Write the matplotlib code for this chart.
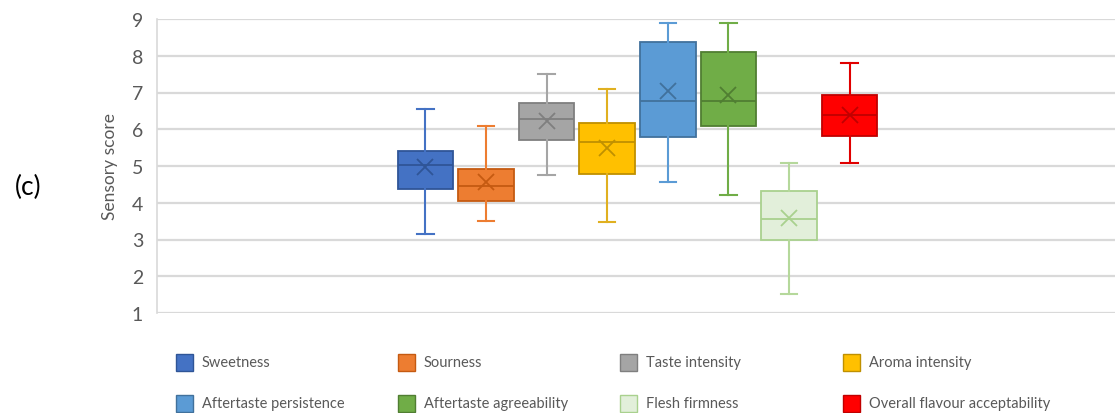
import matplotlib
matplotlib.use("Agg")
import matplotlib.pyplot as plt
from matplotlib.patches import Rectangle

plt.rcParams['font.family'] = ['Lato', 'DejaVu Sans']

# Sensory attributes and box statistics (score 1-9)
labels = ["Sweetness", "Sourness", "Taste intensity", "Aroma intensity",
          "Aftertaste persistence", "Aftertaste agreeability", "Flesh firmness",
          "Overall flavour acceptability"]
whis_lo = [3.14, 3.50, 4.75, 3.48, 4.57, 4.21, 1.53, 5.07]
q1 = [4.37, 4.06, 5.71, 4.77, 5.78, 6.08, 3.00, 5.82]
median = [5.03, 4.46, 6.29, 5.66, 6.76, 6.76, 3.57, 6.40]
mean = [4.96, 4.56, 6.22, 5.48, 7.05, 6.93, 3.59, 6.39]
q3 = [5.42, 4.92, 6.72, 6.18, 8.38, 8.09, 4.33, 6.93]
whis_hi = [6.56, 6.08, 7.49, 7.09, 8.89, 8.89, 5.07, 7.79]

fills = ["#4472C4", "#ED7D31", "#A5A5A5", "#FFC000",
         "#5B9BD5", "#70AD47", "#E2EFDA", "#FF0000"]
edges = ["#2F5597", "#C55A11", "#7F7F7F", "#BF9000",
         "#41719C", "#507E32", "#A9D18E", "#C00000"]
whisk = ["#4472C4", "#ED7D31", "#A5A5A5", "#E0B020",
         "#5B9BD5", "#70AD47", "#B5D89B", "#E00000"]

stats = []
for i, lab in enumerate(labels):
    stats.append(dict(label=lab, whislo=whis_lo[i], q1=q1[i], med=median[i],
                      mean=mean[i], q3=q3[i], whishi=whis_hi[i], fliers=[]))

W, H = 1115, 414
fig = plt.figure(figsize=(W / 100, H / 100), dpi=100)
ax = fig.add_axes([157 / W, 1 - 314 / H, 1 - 157 / W, (314 - 20) / H])

pos = list(range(len(labels)))
bp = ax.bxp(stats, positions=pos, widths=0.92, patch_artist=True,
            showmeans=True, capwidths=0.27, manage_ticks=False)

for i in range(len(labels)):
    bp['boxes'][i].set(facecolor=fills[i], edgecolor=edges[i], linewidth=1.3)
    bp['medians'][i].set(color=edges[i], linewidth=1.3)
    bp['means'][i].set(marker='x', markersize=11, markeredgewidth=1.3,
                       markeredgecolor=edges[i], color=edges[i])
    for ln in bp['whiskers'][2 * i:2 * i + 2] + bp['caps'][2 * i:2 * i + 2]:
        ln.set(color=whisk[i], linewidth=1.5)

ax.set_xlim(-4.43, 11.38)
ax.set_ylim(1, 9)
ax.set_yticks(range(1, 10))
ax.set_xticks([])
ax.set_axisbelow(True)
ax.yaxis.grid(True, color="#d9d9d9", linewidth=1.6)
for s in ['top', 'right', 'bottom']:
    ax.spines[s].set_visible(False)
ax.spines['left'].set_color("#d9d9d9")
ax.spines['left'].set_linewidth(1.2)
ax.tick_params(axis='y', length=0, pad=10, labelsize=14, labelcolor="#595959")
ax.set_ylabel("Sensory score", fontsize=12.5, color="#595959", labelpad=10)

fig.text(28 / W, 1 - 187 / H, "(c)", fontsize=19, color="black",
         ha='center', va='center')

# legend: 2 rows x 4 columns, evenly spaced like the spreadsheet layout
col_x = [176, 398, 620, 843]
row_y = [363, 404]
for i, lab in enumerate(labels):
    x0 = col_x[i % 4]
    y0 = row_y[i // 4]
    fig.patches.append(Rectangle((x0 / W, 1 - (y0 + 8.5) / H), 17 / W, 17 / H,
                                 transform=fig.transFigure, facecolor=fills[i],
                                 edgecolor=edges[i], linewidth=1.0))
    fig.text((x0 + 26) / W, 1 - y0 / H, lab, fontsize=10.5, color="#595959",
             ha='left', va='center')

fig.savefig("out.png", dpi=100)
